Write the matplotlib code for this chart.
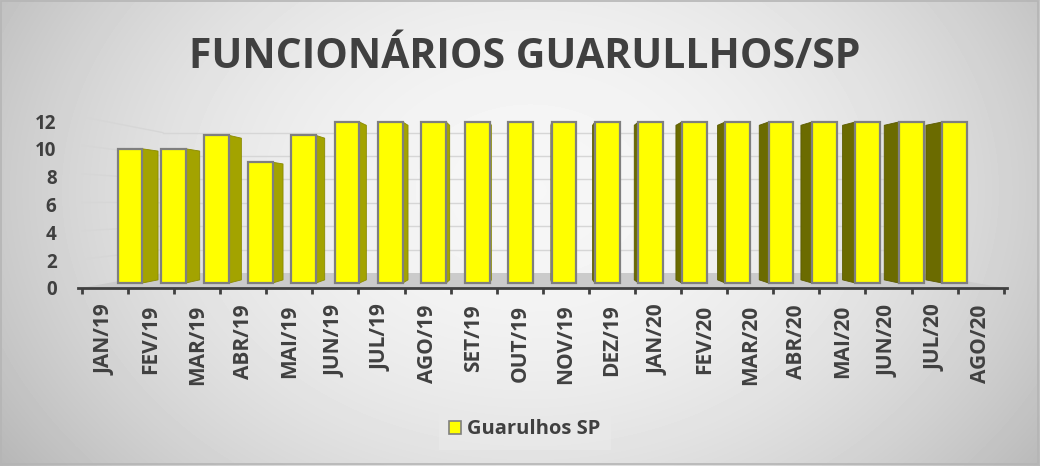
import matplotlib
matplotlib.use('Agg')
import matplotlib.pyplot as plt
import numpy as np
from matplotlib.patches import Polygon, Patch, Rectangle

# ---------------- data ----------------
categories = ["JAN/19", "FEV/19", "MAR/19", "ABR/19", "MAI/19", "JUN/19", "JUL/19",
              "AGO/19", "SET/19", "OUT/19", "NOV/19", "DEZ/19", "JAN/20", "FEV/20",
              "MAR/20", "ABR/20", "MAI/20", "JUN/20", "JUL/20", "AGO/20"]
values = [10, 10, 11, 9, 11, 12, 12, 12, 12, 12, 12, 12, 12, 12, 12, 12, 12, 12, 12, 12]
y_ticks = [0, 2, 4, 6, 8, 10, 12]
series_name = "Guarulhos SP"
title = "FUNCIONÁRIOS GUARULLHOS/SP"

plt.rcParams['font.family'] = ['Open Sans', 'DejaVu Sans']
TXT = '#404040'

W, H = 1040, 466
fig = plt.figure(figsize=(W / 100, H / 100), dpi=100)

# ---------------- background gradient ----------------
bg = fig.add_axes([0, 0, 1, 1], zorder=-10)
yy, xx = np.mgrid[0:H, 0:W]
r2 = ((xx - 530) / 560.0) ** 2 + ((yy - 190) / 420.0) ** 2
img = np.clip(0.965 - 0.19 * r2, 0.7, 1)
bg.imshow(img, cmap='gray', vmin=0, vmax=1, extent=[0, W, H, 0], aspect='auto',
          interpolation='bilinear')
bg.set_xlim(0, W); bg.set_ylim(H, 0); bg.axis('off')
bg.add_patch(Rectangle((1, 1), W - 3, H - 3, fill=False, edgecolor='#b5b5b5', lw=1.2))

# ---------------- main axes (bar plane) ----------------
X0, DX, Y0, DY = 130, 43.4, 283, 13.42
xlim = (-1.5, 20.5)
ylim = (-0.6, 14.5)
left = (X0 + DX * xlim[0]) / W
right = (X0 + DX * xlim[1]) / W
bottom = 1 - (Y0 - DY * ylim[0]) / H
top = 1 - (Y0 - DY * ylim[1]) / H
ax = fig.add_axes([left, bottom, right - left, top - bottom])
ax.set_xlim(*xlim); ax.set_ylim(*ylim)
ax.patch.set_alpha(0)

VX, VY = 9.31, 5.81
F_FRONT, F_BARBACK, F_WALL = 1.062, 0.96, 0.872


def proj(x, y, f):
    return VX + f * (x - VX), VY + f * (y - VY)


n = len(categories)
xs = np.arange(n)
x_lo, x_hi = -0.5, n - 0.5

# floor
floor = [proj(x_lo, 0, F_FRONT), proj(x_hi, 0, F_FRONT), proj(x_hi, 0, F_WALL), proj(x_lo, 0, F_WALL)]
ax.add_patch(Polygon(floor, closed=True, facecolor='#cbcbcb', edgecolor='none', zorder=1))

# wall gridlines
for v in y_ticks[1:]:
    p1 = proj(x_lo, v, F_WALL); p2 = proj(x_hi, v, F_WALL)
    ax.plot([p1[0], p2[0]], [p1[1], p2[1]], color='#d6d6d6', lw=1.0, zorder=1)
    p0 = proj(x_lo, v, F_FRONT)
    ax.plot([p0[0], p1[0]], [p0[1], p1[1]], color='#d6d6d6', lw=1.0, zorder=1)

# bars
bw = 0.57
for x, v in zip(xs, values):
    xl, xr = x - bw / 2, x + bw / 2
    if xr < VX:
        side = [proj(xr, 0, 1), proj(xr, v, 1), proj(xr, v, F_BARBACK), proj(xr, 0, F_BARBACK)]
        ax.add_patch(Polygon(side, closed=True, facecolor='#a3a300', edgecolor='#8a8a00',
                             lw=0.6, zorder=2))
    if xl > VX:
        side = [proj(xl, 0, 1), proj(xl, v, 1), proj(xl, v, F_BARBACK), proj(xl, 0, F_BARBACK)]
        ax.add_patch(Polygon(side, closed=True, facecolor='#6b6b00', edgecolor='#5a5a00',
                             lw=0.6, zorder=2))
ax.bar(xs, values, width=bw, color='#ffff00', edgecolor='#7f7f7f', linewidth=1.6, zorder=3)

# ---------------- axes decoration ----------------
for s in ['top', 'right', 'left']:
    ax.spines[s].set_visible(False)
y_axis = proj(0, 0, F_FRONT)[1]
ax.spines['bottom'].set_position(('data', y_axis))
ax.spines['bottom'].set_color(TXT)
ax.spines['bottom'].set_linewidth(2.0)
ax.spines['bottom'].set_zorder(4)
ax.spines['bottom'].set_bounds(proj(x_lo, 0, F_FRONT)[0] - 0.09, proj(x_hi, 0, F_FRONT)[0] + 0.07)

label_pos = [proj(x, 0, F_FRONT)[0] for x in xs]
bound_pos = [proj(x, 0, F_FRONT)[0] for x in np.arange(n + 1) - 0.5]
ax.set_xticks(label_pos)
ax.set_xticklabels(categories, rotation=90, fontsize=15, fontweight='bold', color=TXT)
ax.set_xticks(bound_pos, minor=True)
ax.tick_params(axis='x', which='major', length=0, pad=12)
ax.tick_params(axis='x', which='minor', length=4, width=2.0, color=TXT, direction='out')

ytick_pos = [VY + 1.036 * (v - VY) - 0.16 for v in y_ticks]
ax.set_yticks(ytick_pos)
ax.set_yticklabels([str(v) for v in y_ticks], fontsize=13.5, fontweight='bold', color=TXT)
ax.tick_params(axis='y', length=0, pad=6)

fig.text(0.505, 1 - 57 / H, title, ha='center', va='center', fontsize=29.5,
         fontweight='bold', color=TXT)

handle = Patch(facecolor='#ffff00', edgecolor='#7f7f7f', linewidth=1.2)
leg = fig.legend([handle], [series_name], loc='center',
                 bbox_to_anchor=(525 / W, 1 - 429.5 / H), frameon=True, fancybox=False,
                 prop={'weight': 'bold', 'size': 14.5}, handlelength=0.6, handleheight=0.6,
                 handletextpad=0.3, borderpad=0.5, borderaxespad=0)
leg.get_frame().set_facecolor('#e9e9e9')
leg.get_frame().set_edgecolor('none')
for t in leg.get_texts():
    t.set_color(TXT)

fig.savefig('out.png', dpi=100)
